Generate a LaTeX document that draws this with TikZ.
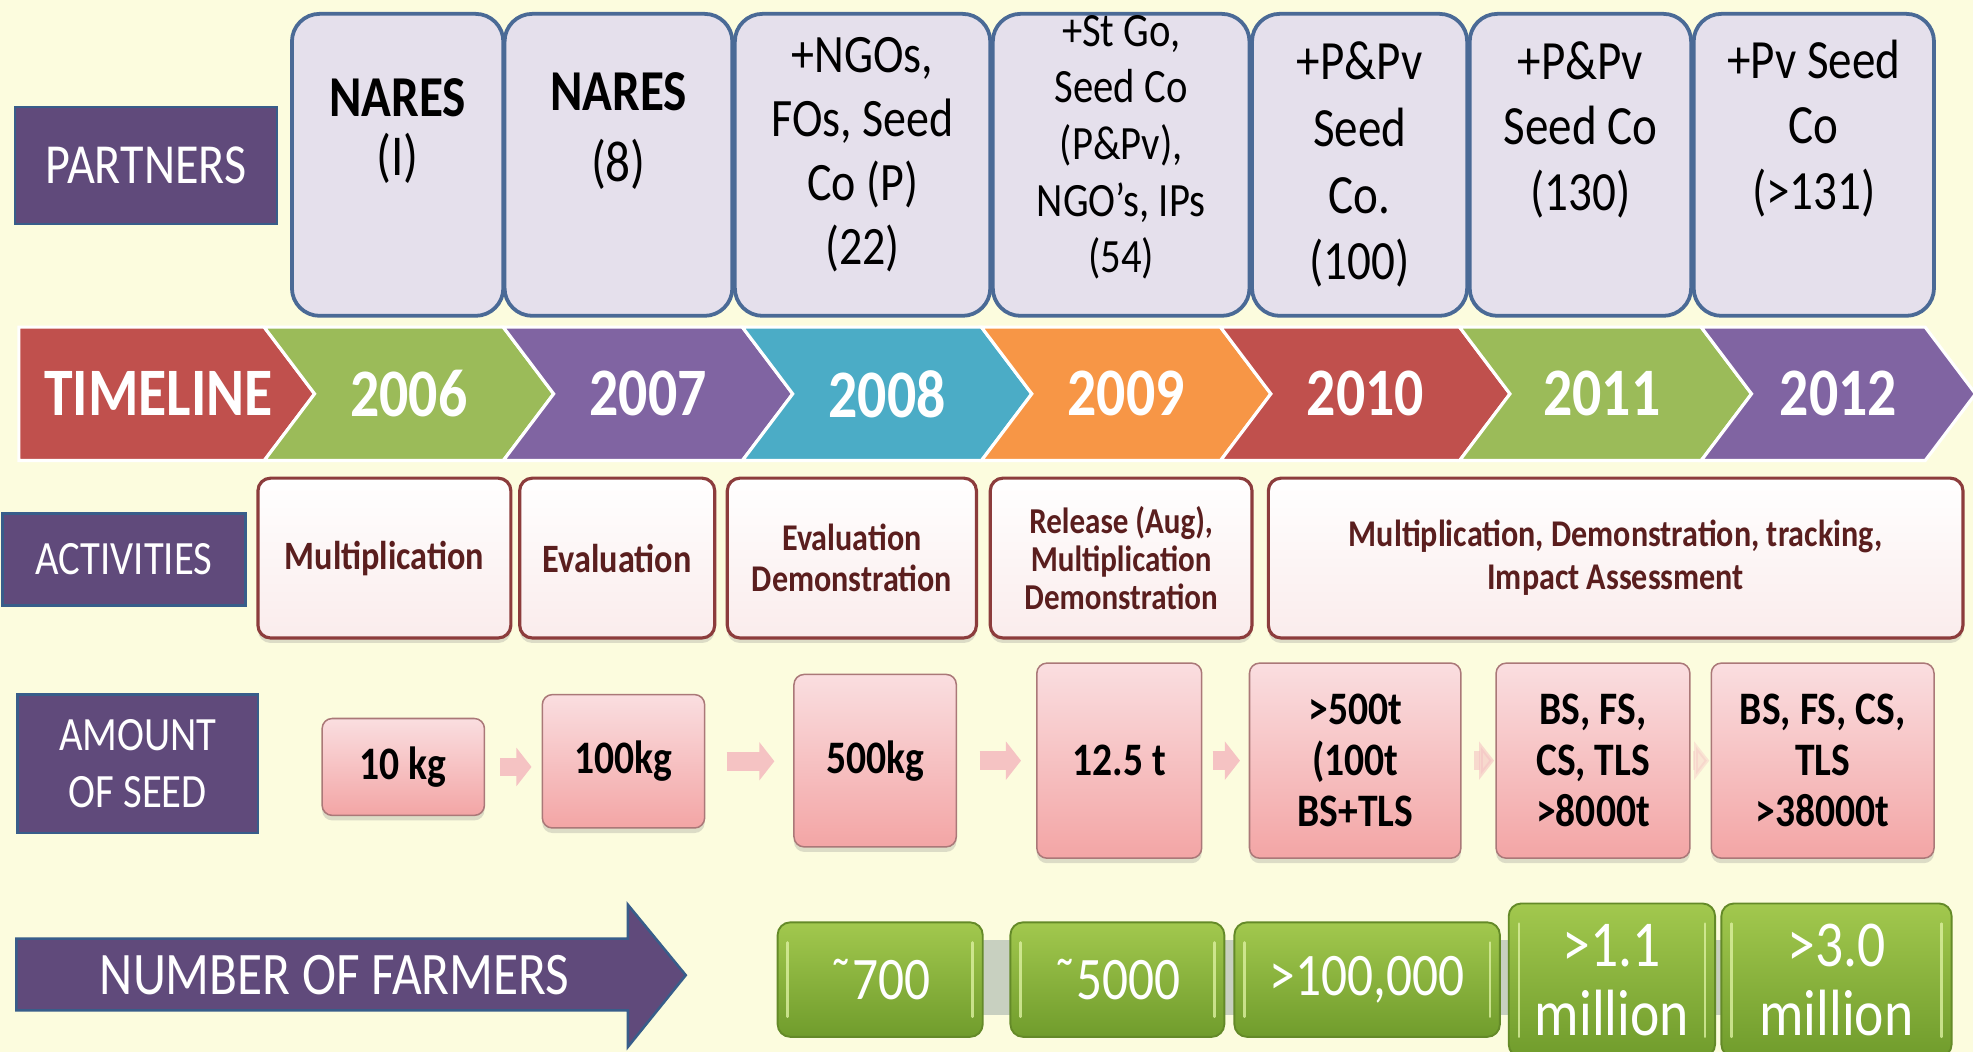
\documentclass[tikz,border=0pt]{standalone}
\usepackage{fontspec}
\setmainfont{Carlito}[FakeStretch=0.85]
\usetikzlibrary{arrows.meta,shadows}
\definecolor{bg}{RGB}{252,252,222}
\definecolor{lblpurple}{RGB}{96,74,123}
\definecolor{lblborder}{RGB}{56,93,138}
\definecolor{ptfill}{RGB}{229,224,236}
\definecolor{ptborder}{RGB}{74,106,150}
\definecolor{ored}{RGB}{192,80,77}
\definecolor{ogreen}{RGB}{155,187,89}
\definecolor{opurple}{RGB}{128,100,162}
\definecolor{oaqua}{RGB}{75,172,198}
\definecolor{oorange}{RGB}{247,150,70}
\definecolor{actborder}{RGB}{140,60,60}
\definecolor{actbot}{RGB}{250,236,236}
\definecolor{acttext}{RGB}{90,30,30}
\definecolor{pinktop}{RGB}{250,222,224}
\definecolor{pinkbot}{RGB}{243,165,165}
\definecolor{pinkborder}{RGB}{170,120,120}
\definecolor{pinkarrow}{RGB}{245,195,195}
\definecolor{gtop}{RGB}{162,200,78}
\definecolor{gbot}{RGB}{112,156,44}
\definecolor{gborder}{RGB}{100,138,40}
\definecolor{gline}{RGB}{220,240,160}
\definecolor{barg}{RGB}{200,208,192}
\newcommand\myfs[2]{\fontsize{#1}{#2}\selectfont}
\tikzset{
  lbl/.style={draw=lblborder, line width=2pt, fill=lblpurple, text=white, inner sep=0pt, align=center},
  pbox/.style={draw=ptborder, line width=3pt, fill=ptfill, rounded corners=22pt, inner sep=0pt,
     minimum height=240pt},
  ptext/.style={align=center, inner sep=0pt, text=black},
  chev/.style={draw=white, line width=2.5pt, line join=miter},
  yeartext/.style={text=white, font=\myfs{54}{60}\bfseries, inner sep=0pt},
  abox/.style={draw=actborder, line width=2.5pt, rounded corners=10pt, top color=white, bottom color=actbot,
     drop shadow={shadow xshift=0pt, shadow yshift=-4pt, opacity=0.25},
     minimum height=127pt, inner sep=0pt, align=center, text=acttext},
  pkbox/.style={draw=pinkborder, line width=1.2pt, rounded corners=8pt, top color=pinktop, bottom color=pinkbot,
     drop shadow={shadow xshift=0pt, shadow yshift=-4pt, opacity=0.25},
     inner sep=0pt, align=center, text=black, font=\myfs{37}{40.5}\bfseries},
  pkarrow/.style={draw=pinkarrow, line width=15pt, -{Triangle[length=12pt,width=30pt]}},
  gbox/.style={draw=gborder, line width=1.5pt, rounded corners=10pt, top color=gtop, bottom color=gbot,
     inner sep=0pt, align=center, text=white,
     path picture={\draw[line width=2pt, draw=gline, opacity=0.8, line cap=round]
       ([xshift=8pt,yshift=-16pt]path picture bounding box.north west) -- ([xshift=8pt,yshift=16pt]path picture bounding box.south west)
       ([xshift=-8pt,yshift=-16pt]path picture bounding box.north east) -- ([xshift=-8pt,yshift=16pt]path picture bounding box.south east);}},
}
\begin{document}
\begin{tikzpicture}[x=1pt,y=-1pt]
\useasboundingbox (0,0) rectangle (1568,836);
\fill[bg] (0,0) rectangle (1568,836);

% ---------- PARTNERS ----------
\node[lbl, minimum width=208pt, minimum height=93pt, font=\myfs{45}{50}] (lpart) at (116,131.5) {PARTNERS};
\node[pbox, minimum width=168pt] (p1) at (316,131) {};
\node[pbox, minimum width=181pt] (p2) at (491.5,131) {};
\node[pbox, minimum width=203pt] (p3) at (685.5,131) {};
\node[pbox, minimum width=204pt] (p4) at (891,131) {};
\node[pbox, minimum width=171pt] (p5) at (1080.5,131) {};
\node[pbox, minimum width=176pt] (p6) at (1256,131) {};
\node[pbox, minimum width=191pt] (p7) at (1441.5,131) {};
\node[ptext, font=\myfs{46}{47}] (p1t) at (316,104) {\textbf{NARES}\\(I)};
\node[ptext, font=\myfs{46}{56}] (p2t) at (491.5,104) {\textbf{NARES}\\(8)};
\node[ptext, font=\myfs{43}{51}] (p3t) at (685.5,123) {+NGOs,\\FOs, Seed\\Co (P)\\(22)};
\node[ptext, font=\myfs{38}{45}] (p4t) at (891,117) {+St Go,\\Seed Co\\(P\&Pv),\\NGO’s, IPs\\(54)};
\node[ptext, font=\myfs{44}{53}] (p5t) at (1080.5,131) {+P\&Pv\\Seed\\Co.\\(100)};
\node[ptext, font=\myfs{44}{52}] (p6t) at (1256,103) {+P\&Pv\\Seed Co\\(130)};
\node[ptext, font=\myfs{44}{52}] (p7t) at (1441.5,102) {+Pv Seed\\Co\\(>131)};

% ---------- TIMELINE ----------
\path[chev, fill=ored] (15,260) -- (210,260) -- (250,313) -- (210,366) -- (15,366) -- cycle;
\path[chev, fill=ogreen] (210,260) -- (400,260) -- (440,313) -- (400,366) -- (210,366) -- (250,313) -- cycle;
\path[chev, fill=opurple] (400,260) -- (590,260) -- (630,313) -- (590,366) -- (400,366) -- (440,313) -- cycle;
\path[chev, fill=oaqua] (590,260) -- (780,260) -- (820,313) -- (780,366) -- (590,366) -- (630,313) -- cycle;
\path[chev, fill=oorange] (780,260) -- (970,260) -- (1010,313) -- (970,366) -- (780,366) -- (820,313) -- cycle;
\path[chev, fill=ored] (970,260) -- (1160,260) -- (1200,313) -- (1160,366) -- (970,366) -- (1010,313) -- cycle;
\path[chev, fill=ogreen] (1160,260) -- (1352,260) -- (1392,313) -- (1352,366) -- (1160,366) -- (1200,313) -- cycle;
\path[chev, fill=opurple] (1352,260) -- (1530,260) -- (1570,313) -- (1530,366) -- (1352,366) -- (1392,313) -- cycle;
\node[yeartext] (t0) at (126,313) {TIMELINE};
\node[yeartext] (t1) at (325,313) {2006};
\node[yeartext] (t2) at (515,313) {2007};
\node[yeartext] (t3) at (705,313) {2008};
\node[yeartext] (t4) at (895,313) {2009};
\node[yeartext] (t5) at (1085,313) {2010};
\node[yeartext] (t6) at (1273,313) {2011};
\node[yeartext] (t7) at (1461,313) {2012};

% ---------- ACTIVITIES ----------
\node[lbl, minimum width=193pt, minimum height=73pt, font=\myfs{38}{45}] (lact) at (98.5,444.5) {ACTIVITIES};
\node[abox, minimum width=201pt, font=\myfs{32}{34}\bfseries] (a1) at (305.5,443.5) {Multiplication};
\node[abox, minimum width=155pt, font=\myfs{32}{34}\bfseries] (a2) at (490.5,443.5) {Evaluation};
\node[abox, minimum width=198pt, font=\myfs{30}{33}\bfseries] (a3) at (677,443.5) {Evaluation\\Demonstration};
\node[abox, minimum width=208pt, font=\myfs{29}{30}\bfseries] (a4) at (891,443.5) {Release (Aug),\\Multiplication\\Demonstration};
\node[abox, minimum width=552pt, font=\myfs{30}{34}\bfseries] (a5) at (1284,443.5) {Multiplication, Demonstration, tracking,\\Impact Assessment};

% ---------- AMOUNT OF SEED ----------
\node[lbl, minimum width=191pt, minimum height=110pt, font=\myfs{38}{45}] (lamt) at (109.5,607) {AMOUNT\\OF SEED};
\node[pkbox, minimum width=129pt, minimum height=77pt] (s1) at (320.5,609.5) {10 kg};
\node[pkbox, minimum width=129pt, minimum height=106pt] (s2) at (495.5,605) {100kg};
\node[pkbox, minimum width=129pt, minimum height=137pt] (s3) at (695.5,604.5) {500kg};
\node[pkbox, minimum width=131pt, minimum height=155pt] (s4) at (889.5,604.5) {12.5 t};
\node[pkbox, minimum width=168pt, minimum height=155pt] (s5) at (1077,604.5) {>500t\\(100t\\BS+TLS};
\node[pkbox, minimum width=154pt, minimum height=155pt] (s6) at (1266,604.5) {BS, FS,\\CS, TLS\\>8000t};
\node[pkbox, minimum width=177pt, minimum height=155pt] (s7) at (1448.5,604.5) {BS, FS, CS,\\TLS\\>38000t};
\draw[pkarrow, shorten <=12pt, shorten >=8pt] (s1.east) -- (s2.west |- s1.east);
\draw[pkarrow, shorten <=17pt, shorten >=15pt] (s2.east) -- (s3.west |- s2.east);
\draw[pkarrow, shorten <=18pt, shorten >=12pt] (s3.east) -- (s4.west |- s3.east);
\draw[pkarrow, shorten <=8pt, shorten >=7pt] (s4.east) -- (s5.west |- s4.east);
\draw[pkarrow, opacity=0.6, shorten <=10pt, shorten >=1pt] (s5.east) -- (s6.west |- s5.east);
\draw[pkarrow, opacity=0.4, shorten <=2pt, shorten >=1pt] (s6.east) -- (s7.west |- s6.east);

% ---------- NUMBER OF FARMERS ----------
\path[fill=lblpurple, draw=lblborder, line width=2pt, line join=miter]
  (13,746) -- (499,746) -- (499,719) -- (545,775) -- (499,832) -- (499,803) -- (13,803) -- cycle;
\node[text=white, inner sep=0pt, font=\myfs{48}{50}] (lfarm) at (266,775) {NUMBER OF FARMERS};
\fill[barg] (770,747) rectangle (1370,807);
\node[gbox, minimum width=163pt, minimum height=91pt, font=\myfs{48}{52}] (g1) at (699.5,778.5) {˜700};
\node[gbox, minimum width=170pt, minimum height=91pt, font=\myfs{48}{52}] (g2) at (888,778.5) {˜5000};
\node[gbox, minimum width=211pt, minimum height=91pt, font=\myfs{48}{52}] (g3) at (1086.5,778.5) {>100,000};
\node[gbox, minimum width=164pt, minimum height=122pt, font=\myfs{52}{55}] (g4) at (1281,779) {>1.1\\million};
\node[gbox, minimum width=183pt, minimum height=122pt, font=\myfs{52}{55}] (g5) at (1459.5,779) {>3.0\\million};
\end{tikzpicture}
\end{document}
